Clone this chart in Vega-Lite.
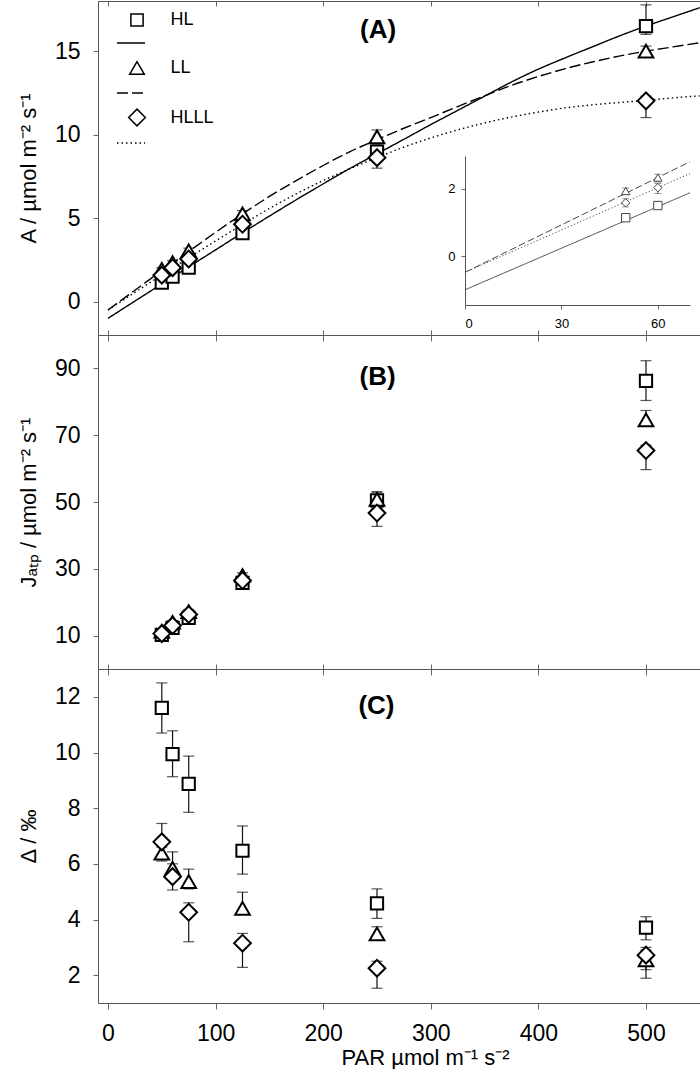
{
  "$schema": "https://vega.github.io/schema/vega-lite/v6.json",
  "padding": {"left": 16, "top": 0, "right": 0, "bottom": 0},
  "bounds": "flush",
  "spacing": 0,
  "background": "white",
  "config": {
    "font": "Liberation Sans",
    "view": {"stroke": "#555", "strokeWidth": 1},
    "axis": {"grid": false, "domain": false, "tickColor": "#666", "labelColor": "black", "titleColor": "black", "labelFont": "Liberation Sans", "titleFont": "Liberation Sans", "titleFontWeight": "normal", "labelFontSize": 23, "titleFontSize": 22}
  },
  "resolve": {"scale": {"shape": "independent", "strokeDash": "independent", "size": "independent"}},
  "datasets": {
    "curves": [
      {"fit": "HL fit", "par": 0, "A": -1.0}, {"fit": "HL fit", "par": 25, "A": 0.03}, {"fit": "HL fit", "par": 50, "A": 1.06}, {"fit": "HL fit", "par": 75, "A": 2.08}, {"fit": "HL fit", "par": 100, "A": 3.1}, {"fit": "HL fit", "par": 125, "A": 4.12}, {"fit": "HL fit", "par": 150, "A": 5.12}, {"fit": "HL fit", "par": 175, "A": 6.1}, {"fit": "HL fit", "par": 200, "A": 7.05}, {"fit": "HL fit", "par": 225, "A": 7.98}, {"fit": "HL fit", "par": 250, "A": 8.85}, {"fit": "HL fit", "par": 275, "A": 9.72}, {"fit": "HL fit", "par": 300, "A": 10.6}, {"fit": "HL fit", "par": 325, "A": 11.45}, {"fit": "HL fit", "par": 350, "A": 12.3}, {"fit": "HL fit", "par": 375, "A": 13.15}, {"fit": "HL fit", "par": 400, "A": 13.92}, {"fit": "HL fit", "par": 425, "A": 14.6}, {"fit": "HL fit", "par": 450, "A": 15.25}, {"fit": "HL fit", "par": 475, "A": 15.9}, {"fit": "HL fit", "par": 500, "A": 16.5}, {"fit": "HL fit", "par": 525, "A": 17.05}, {"fit": "HL fit", "par": 550, "A": 17.6},
      {"fit": "LL fit", "par": 0, "A": -0.5}, {"fit": "LL fit", "par": 25, "A": 0.68}, {"fit": "LL fit", "par": 50, "A": 1.85}, {"fit": "LL fit", "par": 75, "A": 3.0}, {"fit": "LL fit", "par": 100, "A": 4.15}, {"fit": "LL fit", "par": 125, "A": 5.25}, {"fit": "LL fit", "par": 150, "A": 6.3}, {"fit": "LL fit", "par": 175, "A": 7.25}, {"fit": "LL fit", "par": 200, "A": 8.15}, {"fit": "LL fit", "par": 225, "A": 8.98}, {"fit": "LL fit", "par": 250, "A": 9.7}, {"fit": "LL fit", "par": 275, "A": 10.38}, {"fit": "LL fit", "par": 300, "A": 11.02}, {"fit": "LL fit", "par": 325, "A": 11.68}, {"fit": "LL fit", "par": 350, "A": 12.32}, {"fit": "LL fit", "par": 375, "A": 12.95}, {"fit": "LL fit", "par": 400, "A": 13.48}, {"fit": "LL fit", "par": 425, "A": 13.95}, {"fit": "LL fit", "par": 450, "A": 14.35}, {"fit": "LL fit", "par": 475, "A": 14.7}, {"fit": "LL fit", "par": 500, "A": 15.0}, {"fit": "LL fit", "par": 525, "A": 15.25}, {"fit": "LL fit", "par": 550, "A": 15.5},
      {"fit": "HLLL fit", "par": 0, "A": -0.5}, {"fit": "HLLL fit", "par": 25, "A": 0.55}, {"fit": "HLLL fit", "par": 50, "A": 1.6}, {"fit": "HLLL fit", "par": 75, "A": 2.62}, {"fit": "HLLL fit", "par": 100, "A": 3.63}, {"fit": "HLLL fit", "par": 125, "A": 4.62}, {"fit": "HLLL fit", "par": 150, "A": 5.58}, {"fit": "HLLL fit", "par": 175, "A": 6.45}, {"fit": "HLLL fit", "par": 200, "A": 7.25}, {"fit": "HLLL fit", "par": 225, "A": 7.95}, {"fit": "HLLL fit", "par": 250, "A": 8.62}, {"fit": "HLLL fit", "par": 275, "A": 9.25}, {"fit": "HLLL fit", "par": 300, "A": 9.8}, {"fit": "HLLL fit", "par": 325, "A": 10.28}, {"fit": "HLLL fit", "par": 350, "A": 10.7}, {"fit": "HLLL fit", "par": 375, "A": 11.05}, {"fit": "HLLL fit", "par": 400, "A": 11.35}, {"fit": "HLLL fit", "par": 425, "A": 11.6}, {"fit": "HLLL fit", "par": 450, "A": 11.78}, {"fit": "HLLL fit", "par": 475, "A": 11.92}, {"fit": "HLLL fit", "par": 500, "A": 12.05}, {"fit": "HLLL fit", "par": 525, "A": 12.2}, {"fit": "HLLL fit", "par": 550, "A": 12.32}
    ],
    "points": [
      {"series": "HL", "par": 50, "A": 1.14, "A_lo": 1.06, "A_hi": 1.22, "J": 10.2, "J_lo": 9.8, "J_hi": 10.6, "D": 11.6, "D_lo": 10.7, "D_hi": 12.5},
      {"series": "HL", "par": 60, "A": 1.5, "A_lo": 1.4, "A_hi": 1.6, "J": 12.3, "J_lo": 11.8, "J_hi": 12.8, "D": 9.94, "D_lo": 9.13, "D_hi": 10.78},
      {"series": "HL", "par": 75, "A": 2.04, "A_lo": 1.9, "A_hi": 2.2, "J": 15.3, "J_lo": 14.7, "J_hi": 15.9, "D": 8.87, "D_lo": 7.85, "D_hi": 9.87},
      {"series": "HL", "par": 125, "A": 4.1, "A_lo": 3.9, "A_hi": 4.3, "J": 25.8, "J_lo": 25.0, "J_hi": 26.6, "D": 6.47, "D_lo": 5.63, "D_hi": 7.36},
      {"series": "HL", "par": 250, "A": 8.98, "A_lo": 8.6, "A_hi": 9.35, "J": 50.5, "J_lo": 48.0, "J_hi": 53.0, "D": 4.58, "D_lo": 4.04, "D_hi": 5.1},
      {"series": "HL", "par": 500, "A": 16.5, "A_lo": 16.0, "A_hi": 17.77, "J": 86.3, "J_lo": 80.4, "J_hi": 92.3, "D": 3.71, "D_lo": 3.27, "D_hi": 4.1},
      {"series": "LL", "par": 50, "A": 1.93, "A_lo": 1.83, "A_hi": 2.03, "J": 11.3, "J_lo": 10.9, "J_hi": 11.7, "D": 6.38, "D_lo": 6.1, "D_hi": 6.6},
      {"series": "LL", "par": 60, "A": 2.33, "A_lo": 2.21, "A_hi": 2.45, "J": 14.0, "J_lo": 13.5, "J_hi": 14.5, "D": 5.84, "D_lo": 5.6, "D_hi": 6.43},
      {"series": "LL", "par": 75, "A": 3.04, "A_lo": 2.9, "A_hi": 3.2, "J": 17.2, "J_lo": 16.6, "J_hi": 17.8, "D": 5.36, "D_lo": 5.1, "D_hi": 5.81},
      {"series": "LL", "par": 125, "A": 5.25, "A_lo": 5.05, "A_hi": 5.45, "J": 28.0, "J_lo": 27.2, "J_hi": 28.8, "D": 4.4, "D_lo": 4.2, "D_hi": 4.98},
      {"series": "LL", "par": 250, "A": 9.86, "A_lo": 9.44, "A_hi": 10.28, "J": 50.8, "J_lo": 49.5, "J_hi": 53.0, "D": 3.48, "D_lo": 3.3, "D_hi": 3.74},
      {"series": "LL", "par": 500, "A": 15.0, "A_lo": 14.75, "A_hi": 15.3, "J": 74.6, "J_lo": 73.0, "J_hi": 77.4, "D": 2.55, "D_lo": 2.2, "D_hi": 3.0},
      {"series": "HLLL", "par": 50, "A": 1.58, "A_lo": 1.48, "A_hi": 1.7, "J": 10.6, "J_lo": 10.1, "J_hi": 11.1, "D": 6.79, "D_lo": 6.3, "D_hi": 7.45},
      {"series": "HLLL", "par": 60, "A": 2.03, "A_lo": 1.88, "A_hi": 2.15, "J": 13.0, "J_lo": 12.4, "J_hi": 13.6, "D": 5.54, "D_lo": 5.06, "D_hi": 6.0},
      {"series": "HLLL", "par": 75, "A": 2.55, "A_lo": 2.4, "A_hi": 2.7, "J": 16.3, "J_lo": 15.7, "J_hi": 16.9, "D": 4.26, "D_lo": 3.2, "D_hi": 4.6},
      {"series": "HLLL", "par": 125, "A": 4.63, "A_lo": 4.4, "A_hi": 4.85, "J": 26.5, "J_lo": 25.7, "J_hi": 27.3, "D": 3.15, "D_lo": 2.28, "D_hi": 3.5},
      {"series": "HLLL", "par": 250, "A": 8.62, "A_lo": 7.99, "A_hi": 9.2, "J": 46.7, "J_lo": 42.7, "J_hi": 48.5, "D": 2.25, "D_lo": 1.53, "D_hi": 2.5},
      {"series": "HLLL", "par": 500, "A": 12.02, "A_lo": 11.02, "A_hi": 12.3, "J": 65.4, "J_lo": 59.7, "J_hi": 67.0, "D": 2.72, "D_lo": 1.89, "D_hi": 2.9}
    ],
    "inset_lines": [
      {"series": "HL", "par": 0, "A": -1.0}, {"series": "HL", "par": 70, "A": 1.88},
      {"series": "LL", "par": 0, "A": -0.48}, {"series": "LL", "par": 70, "A": 2.8},
      {"series": "HLLL", "par": 0, "A": -0.48}, {"series": "HLLL", "par": 70, "A": 2.45}
    ],
    "inset_points": [
      {"series": "HL", "par": 50, "A": 1.14, "lo": 1.08, "hi": 1.2},
      {"series": "HL", "par": 60, "A": 1.5, "lo": 1.4, "hi": 1.62},
      {"series": "LL", "par": 50, "A": 1.93, "lo": 1.83, "hi": 2.02},
      {"series": "LL", "par": 60, "A": 2.33, "lo": 2.2, "hi": 2.43},
      {"series": "HLLL", "par": 50, "A": 1.58, "lo": 1.46, "hi": 1.7},
      {"series": "HLLL", "par": 60, "A": 2.03, "lo": 1.86, "hi": 2.15}
    ]
  },
  "vconcat": [
    {
      "width": 602, "height": 334,
      "resolve": {"scale": {"x": "independent", "y": "independent", "shape": "independent", "strokeDash": "independent", "size": "independent"}},
      "layer": [
        {
          "layer": [
            {
              "data": {"name": "curves"},
              "mark": {"type": "line", "stroke": "black", "strokeWidth": 1.4, "interpolate": "monotone"},
              "encoding": {
                "x": {"field": "par", "type": "quantitative", "scale": {"domain": [-9.3, 550.2], "nice": false, "zero": false},
                      "axis": {"orient": "bottom", "values": [0, 100, 200, 300, 400, 500], "labels": false, "tickSize": 6, "title": null}},
                "y": {"field": "A", "type": "quantitative", "title": "A / µmol m⁻² s⁻¹", "scale": {"domain": [-2, 18], "nice": false, "zero": false},
                      "axis": {"orient": "left", "values": [0, 5, 10, 15], "tickSize": 5, "labelPadding": 13, "titlePadding": 14, "title": "A / µmol m⁻² s⁻¹"}},
                "strokeDash": {"field": "fit", "type": "nominal",
                      "scale": {"domain": ["HL fit", "LL fit", "HLLL fit"], "range": [[1, 0], [11, 4], [1.5, 3]]},
                      "legend": {"orient": "none", "legendX": 18, "legendY": 27, "title": null, "padding": 0, "symbolType": "stroke", "symbolSize": 784, "symbolStrokeColor": "black", "symbolStrokeWidth": 1.3, "labelExpr": "''", "rowPadding": 30}}
              }
            },
            {
              "data": {"name": "points"},
              "mark": {"type": "errorbar", "ticks": {"size": 11}, "color": "#111", "thickness": 1.2},
              "encoding": {
                "x": {"field": "par", "type": "quantitative"},
                "y": {"field": "A_lo", "type": "quantitative", "title": "A / µmol m⁻² s⁻¹"},
                "y2": {"field": "A_hi"}
              }
            },
            {
              "data": {"name": "points"},
              "mark": {"type": "point", "filled": true, "fill": "white", "stroke": "black", "strokeWidth": 2, "opacity": 1},
              "encoding": {
                "x": {"field": "par", "type": "quantitative"},
                "y": {"field": "A", "type": "quantitative", "title": "A / µmol m⁻² s⁻¹"},
                "shape": {
                  "field": "series", "type": "nominal",
                  "scale": {"domain": ["HL", "LL", "HLLL"], "range": ["square", "triangle-up", "diamond"]},
                  "legend": {
                    "orient": "none", "legendX": 29.5, "legendY": 10, "title": null, "padding": 0,
                    "labelFontSize": 18, "labelFont": "Liberation Sans", "labelColor": "black", "labelOffset": 24, "rowPadding": 28,
                    "encode": {"symbols": {"update": {"fill": {"value": "white"}, "stroke": {"value": "black"}, "strokeWidth": {"value": 2}, "opacity": {"value": 1}}}}
                  }
                },
                "size": {
                  "field": "series", "type": "ordinal",
                  "scale": {"domain": ["HL", "LL", "HLLL"], "range": [150, 280]},
                  "legend": {
                    "orient": "none", "legendX": 29.5, "legendY": 10, "title": null, "padding": 0,
                    "labelFontSize": 18, "labelFont": "Liberation Sans", "labelColor": "black", "labelOffset": 24, "rowPadding": 28,
                    "encode": {"symbols": {"update": {"fill": {"value": "white"}, "stroke": {"value": "black"}, "strokeWidth": {"value": 2}, "opacity": {"value": 1}}}}
                  }
                }
              }
            }
          ]
        },
        {
          "data": {"values": [{"label": "(A)"}]},
          "mark": {"type": "text", "fontSize": 26, "fontWeight": "bold", "font": "Liberation Sans", "baseline": "middle", "align": "center", "color": "black"},
          "encoding": {
            "text": {"field": "label"},
            "x": {"datum": 251, "type": "quantitative", "scale": {"domain": [-9.3, 550.2], "nice": false, "zero": false},
                  "axis": {"orient": "top", "values": [0, 100, 200, 300, 400, 500], "labels": false, "tickSize": -5, "title": null}},
            "y": {"datum": 16.25, "type": "quantitative", "scale": {"domain": [-2, 18], "nice": false, "zero": false}, "axis": null}
          }
        },
        {
          "layer": [
            {
              "data": {"name": "inset_lines"},
              "mark": {"type": "line", "stroke": "#333", "strokeWidth": 0.9},
              "encoding": {
                "x": {"field": "par", "type": "quantitative", "scale": {"domain": [0, 70], "range": [367, 592], "nice": false, "zero": false},
                      "axis": {"orient": "bottom", "offset": -30, "values": [0, 30, 60], "format": "d", "domain": true, "domainColor": "#555", "tickSize": 4, "labelFontSize": 13, "labelPadding": 8, "title": null}},
                "y": {"field": "A", "type": "quantitative", "scale": {"domain": [-1.45, 2.97], "range": [304, 155], "nice": false, "zero": false},
                      "axis": {"orient": "left", "offset": -367, "values": [0, 2], "format": "d", "domain": true, "domainColor": "#555", "tickSize": 4, "labelFontSize": 13, "labelPadding": 6, "title": null}},
                "strokeDash": {"field": "series", "type": "nominal", "scale": {"domain": ["HL", "LL", "HLLL"], "range": [[1, 0], [7, 3], [1.2, 2.2]]}, "legend": null}
              }
            },
            {
              "data": {"name": "inset_points"},
              "mark": {"type": "errorbar", "ticks": {"size": 7}, "color": "#444", "thickness": 0.8},
              "encoding": {
                "x": {"field": "par", "type": "quantitative"},
                "y": {"field": "lo", "type": "quantitative"},
                "y2": {"field": "hi"}
              }
            },
            {
              "data": {"name": "inset_points"},
              "mark": {"type": "point", "filled": true, "fill": "white", "stroke": "#444", "strokeWidth": 1, "size": 70, "opacity": 1},
              "encoding": {
                "x": {"field": "par", "type": "quantitative"},
                "y": {"field": "A", "type": "quantitative"},
                "shape": {"field": "series", "type": "nominal", "scale": {"domain": ["HL", "LL", "HLLL"], "range": ["square", "triangle-up", "diamond"]}, "legend": null}
              }
            }
          ]
        }
      ]
    },
    {
      "width": 602, "height": 334,
      "resolve": {"scale": {"x": "independent"}},
      "layer": [
        {
          "layer": [
            {
              "data": {"name": "points"},
              "mark": {"type": "errorbar", "ticks": {"size": 11}, "color": "#111", "thickness": 1.2},
              "encoding": {
                "x": {"field": "par", "type": "quantitative", "scale": {"domain": [-9.3, 550.2], "nice": false, "zero": false},
                      "axis": {"orient": "bottom", "values": [0, 100, 200, 300, 400, 500], "labels": false, "tickSize": 6, "title": null}},
                "y": {"field": "J_lo", "type": "quantitative", "scale": {"domain": [0, 100], "nice": false, "zero": false},
                      "axis": {"orient": "left", "values": [10, 30, 50, 70, 90], "tickSize": 5, "labelPadding": 13, "titlePadding": 14, "title": "Jₐₜₚ / µmol m⁻² s⁻¹"}},
                "y2": {"field": "J_hi"}
              }
            },
            {
              "data": {"name": "points"},
              "mark": {"type": "point", "filled": true, "fill": "white", "stroke": "black", "strokeWidth": 2, "opacity": 1},
              "encoding": {
                "x": {"field": "par", "type": "quantitative"},
                "y": {"field": "J", "type": "quantitative"},
                "shape": {"field": "series", "type": "nominal", "scale": {"domain": ["HL", "LL", "HLLL"], "range": ["square", "triangle-up", "diamond"]}, "legend": null},
                "size": {"field": "series", "type": "ordinal", "scale": {"domain": ["HL", "LL", "HLLL"], "range": [150, 280]}, "legend": null}
              }
            }
          ]
        },
        {
          "data": {"values": [{"label": "(B)"}]},
          "mark": {"type": "text", "fontSize": 26, "fontWeight": "bold", "font": "Liberation Sans", "baseline": "middle", "align": "center", "color": "black"},
          "encoding": {
            "text": {"field": "label"},
            "x": {"datum": 250.5, "type": "quantitative", "scale": {"domain": [-9.3, 550.2], "nice": false, "zero": false},
                  "axis": {"orient": "top", "values": [0, 100, 200, 300, 400, 500], "labels": false, "tickSize": 5, "title": null}},
            "y": {"datum": 87.5, "type": "quantitative"}
          }
        }
      ]
    },
    {
      "width": 602, "height": 334,
      "resolve": {"scale": {"x": "independent"}},
      "layer": [
        {
          "layer": [
            {
              "data": {"name": "points"},
              "mark": {"type": "errorbar", "ticks": {"size": 11}, "color": "#111", "thickness": 1.2},
              "encoding": {
                "x": {"field": "par", "type": "quantitative", "scale": {"domain": [-9.3, 550.2], "nice": false, "zero": false},
                      "axis": {"orient": "bottom", "values": [0, 100, 200, 300, 400, 500], "tickSize": 6, "labelPadding": 13, "title": "PAR µmol m⁻¹ s⁻²", "titleX": 327, "titleY": 44, "titleBaseline": "top", "titleAlign": "center"}},
                "y": {"field": "D_lo", "type": "quantitative", "scale": {"domain": [1, 13], "nice": false, "zero": false},
                      "axis": {"orient": "left", "values": [2, 4, 6, 8, 10, 12], "tickSize": 5, "labelPadding": 13, "titlePadding": 14, "title": "Δ / ‰"}},
                "y2": {"field": "D_hi"}
              }
            },
            {
              "data": {"name": "points"},
              "mark": {"type": "point", "filled": true, "fill": "white", "stroke": "black", "strokeWidth": 2, "opacity": 1},
              "encoding": {
                "x": {"field": "par", "type": "quantitative"},
                "y": {"field": "D", "type": "quantitative"},
                "shape": {"field": "series", "type": "nominal", "scale": {"domain": ["HL", "LL", "HLLL"], "range": ["square", "triangle-up", "diamond"]}, "legend": null},
                "size": {"field": "series", "type": "ordinal", "scale": {"domain": ["HL", "LL", "HLLL"], "range": [150, 280]}, "legend": null}
              }
            }
          ]
        },
        {
          "data": {"values": [{"label": "(C)"}]},
          "mark": {"type": "text", "fontSize": 26, "fontWeight": "bold", "font": "Liberation Sans", "baseline": "middle", "align": "center", "color": "black"},
          "encoding": {
            "text": {"field": "label"},
            "x": {"datum": 249.5, "type": "quantitative", "scale": {"domain": [-9.3, 550.2], "nice": false, "zero": false},
                  "axis": {"orient": "top", "values": [0, 100, 200, 300, 400, 500], "labels": false, "tickSize": 5, "title": null}},
            "y": {"datum": 11.68, "type": "quantitative"}
          }
        }
      ]
    }
  ]
}
